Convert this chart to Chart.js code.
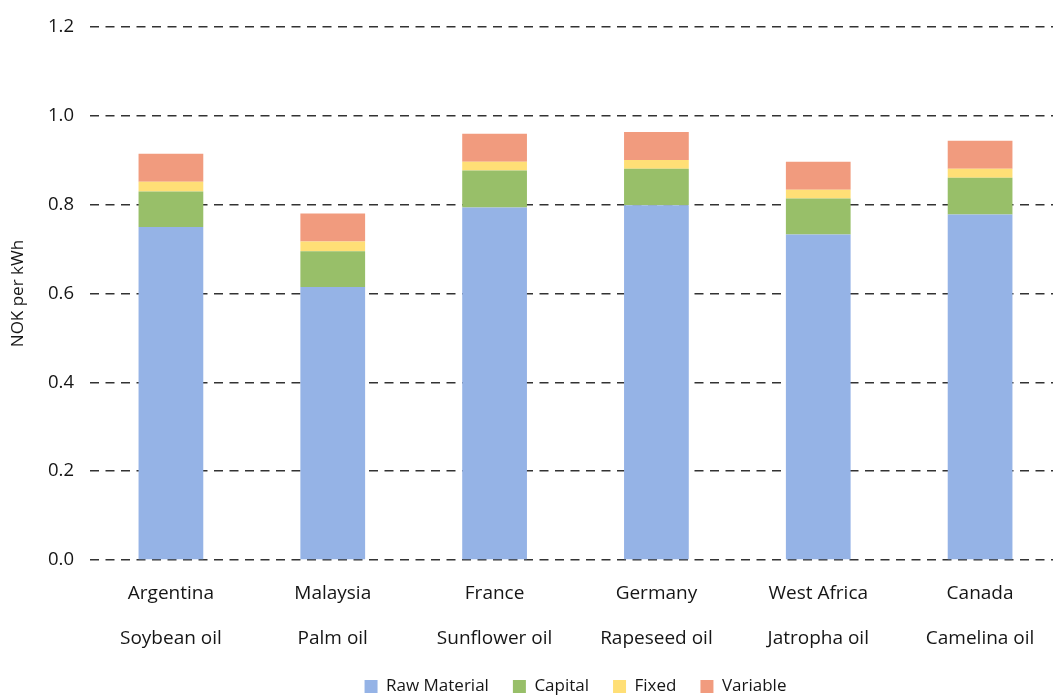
<!DOCTYPE html>
<html>
<head>
<meta charset="utf-8">
<script src="https://cdn.jsdelivr.net/npm/chart.js@4"></script>
<style>
  html, body { margin: 0; padding: 0; background: #ffffff; overflow: hidden; }
  #wrap { position: absolute; left: 0; top: 0; width: 1061px; height: 705px; }
</style>
</head>
<body>
<div id="wrap"><canvas id="chart" width="1061" height="705"></canvas></div>
<script>
// Production cost breakdown of biodiesel feedstocks, NOK per kWh
const regions   = ['Argentina', 'Malaysia', 'France', 'Germany', 'West Africa', 'Canada'];
const feedstock = ['Soybean oil', 'Palm oil', 'Sunflower oil', 'Rapeseed oil', 'Jatropha oil', 'Camelina oil'];

const rawMaterial = [0.750, 0.615, 0.794, 0.799, 0.733, 0.778];
const capital     = [0.080, 0.080, 0.083, 0.082, 0.081, 0.083];
const fixed       = [0.022, 0.022, 0.020, 0.020, 0.020, 0.020];
const variable    = [0.063, 0.063, 0.063, 0.063, 0.063, 0.063];

const yTicks = [0, 0.2, 0.4, 0.6, 0.8, 1.0, 1.2];

const FONT = "'Open Sans', 'Noto Sans', sans-serif";
const TEXT = '#161616';

const labels = regions.map((r, i) => [r, feedstock[i]]);

const series = [
  { label: 'Raw Material', data: rawMaterial, color: '#95B3E6' },
  { label: 'Capital',      data: capital,     color: '#98BF69' },
  { label: 'Fixed',        data: fixed,       color: '#FFDF76' },
  { label: 'Variable',     data: variable,    color: '#F19B7E' }
];

new Chart(document.getElementById('chart'), {
  type: 'bar',
  data: {
    labels: labels,
    datasets: series.map(s => ({
      label: s.label,
      data: s.data,
      backgroundColor: s.color,
      borderWidth: 0,
      barPercentage: 0.8,
      categoryPercentage: 0.5
    }))
  },
  options: {
    responsive: false,
    animation: false,
    devicePixelRatio: 1,
    layout: { padding: { top: 25, left: 0, right: 0, bottom: 0 } },
    plugins: {
      tooltip: { enabled: false },
      legend: {
        position: 'bottom',
        fullSize: false,
        labels: {
          boxWidth: 13,
          boxHeight: 13,
          padding: 24,
          color: TEXT,
          font: { family: FONT, size: 17 }
        }
      }
    },
    scales: {
      x: {
        stacked: true,
        grid: { display: false, drawTicks: false },
        border: { display: false },
        ticks: {
          color: TEXT,
          padding: 11,
          maxRotation: 0,
          autoSkip: false,
          font: { family: FONT, size: 19, lineHeight: '45px' }
        },
        afterFit: scale => { scale.height = 94; }
      },
      y: {
        stacked: true,
        min: 0,
        max: 1.2,
        afterBuildTicks: scale => { scale.ticks = yTicks.map(v => ({ value: v })); },
        grid: {
          color: '#333333',
          lineWidth: 1.5,
          drawTicks: false
        },
        border: { display: false, dash: [9, 6.5] },
        ticks: {
          color: TEXT,
          padding: 16,
          font: { family: FONT, size: 18.5 },
          callback: v => Number(v).toFixed(1)
        },
        title: {
          display: true,
          text: 'NOK per kWh',
          color: TEXT,
          padding: { top: 8, bottom: 0 },
          font: { family: FONT, size: 17 }
        },
        afterFit: scale => { scale.width = 90; }
      }
    }
  }
});
</script>
</body>
</html>
